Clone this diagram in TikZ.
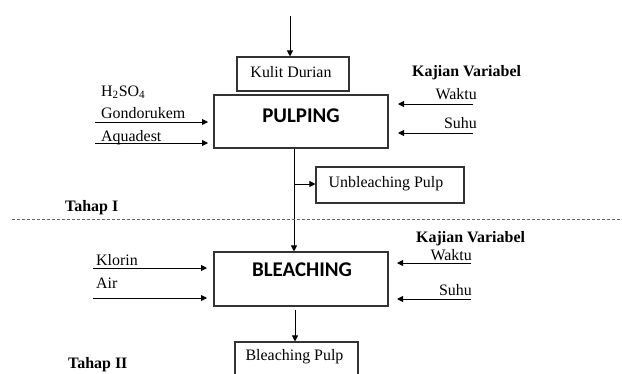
\documentclass[tikz,border=0pt]{standalone}
\usepackage{fontspec}
\setmainfont{Liberation Serif}
\newfontfamily\calfont{Carlito}
\usetikzlibrary{arrows.meta}
\begin{document}
\begin{tikzpicture}[x=1bp,y=-1bp,
  box/.style={draw=black!80,line width=1.1bp,inner sep=0pt},
  txt/.style={font=\fontsize{16}{18}\selectfont,inner sep=0pt},
  btxt/.style={font=\fontsize{16}{18}\selectfont\bfseries,inner sep=0pt},
  big/.style={font=\calfont\bfseries\fontsize{21}{24}\selectfont,inner sep=0pt},
  arr/.style={-{Triangle[length=6bp,width=6bp]},line width=0.9bp},
  sep/.style={draw=black!60,line width=0.9bp,dash pattern=on 3bp off 2bp}]
\useasboundingbox (0,0) rectangle (622,373);
\clip (0,0) rectangle (622,373);
% boxes
\node[box,minimum width=112bp,minimum height=34bp] (kulit) at (293,74) {};
\node[box,minimum width=174bp,minimum height=53bp] (pulp) at (301,121.5) {};
\node[box,minimum width=148bp,minimum height=36bp] (unb) at (390,185) {};
\node[box,minimum width=174bp,minimum height=54bp] (bleach) at (301,279) {};
\node[box,minimum width=123bp,minimum height=44bp] (bp) at (296.5,364) {};
% box texts
\node[txt,anchor=base] (tkulit) at (291,77) {Kulit Durian};
\node[big,anchor=base] (tpulp) at (301,122) {PULPING};
\node[txt,anchor=base] (tunb) at (386,187) {Unbleaching Pulp};
\node[big,anchor=base] (tbleach) at (302,276) {BLEACHING};
\node[txt,anchor=base] (tbp) at (294.5,360) {Bleaching Pulp};
% left inputs
\node[txt,anchor=base west] (h2so4) at (101,96) {H\textsubscript{2}SO\textsubscript{4}};
\node[txt,anchor=base west] (gondo) at (101,118) {Gondorukem};
\node[txt,anchor=base west] (aqua) at (101,141) {Aquadest};
\node[txt,anchor=base west] (klorin) at (96,265) {Klorin};
\node[txt,anchor=base west] (air) at (96,288) {Air};
% right variables
\node[btxt,anchor=base west] (kv1) at (412,76) {Kajian Variabel};
\node[txt,anchor=base east] (waktu1) at (477,99) {Waktu};
\node[txt,anchor=base east] (suhu1) at (477,128) {Suhu};
\node[btxt,anchor=base west] (kv2) at (416,242) {Kajian Variabel};
\node[txt,anchor=base east] (waktu2) at (472,260) {Waktu};
\node[txt,anchor=base east] (suhu2) at (472,295) {Suhu};
% stage labels
\node[btxt,anchor=base west] (tahap1) at (65,211) {Tahap I};
\node[btxt,anchor=base west] (tahap2) at (68,368) {Tahap II};
% coordinates
\coordinate (top) at (290,16);
\coordinate (g0) at (95,122); \coordinate (g1) at (208,122);
\coordinate (a0) at (95,143); \coordinate (a1) at (208,143);
\coordinate (k0) at (93,268); \coordinate (k1) at (207,268);
\coordinate (r0) at (93,298); \coordinate (r1) at (207,298);
\coordinate (w0) at (473,104); \coordinate (w1) at (398,104);
\coordinate (s0) at (473,133); \coordinate (s1) at (398,133);
\coordinate (w2) at (471,263); \coordinate (w3) at (397,263);
\coordinate (s2) at (471,299); \coordinate (s3) at (397,299);
\coordinate (branch) at (294,184);
\coordinate (dl) at (12,219); \coordinate (dr) at (622,219);
% connectors
\draw[arr] (top) -- (top |- kulit.north);
\draw[arr] (g0) -- (g1);
\draw[arr] (a0) -- (a1);
\draw[arr] (k0) -- (k1);
\draw[arr] (r0) -- (r1);
\draw[arr] (w0) -- (w1);
\draw[arr] (s0) -- (s1);
\draw[arr] (w2) -- (w3);
\draw[arr] (s2) -- (s3);
\draw[arr] (branch |- pulp.south) -- (branch |- bleach.north);
\draw[arr] (branch) -- (unb.west |- branch);
\draw[arr] (295,310) -- (bp.north -| 295,0);
\draw[sep] (dl) -- (dr);
\end{tikzpicture}
\end{document}
